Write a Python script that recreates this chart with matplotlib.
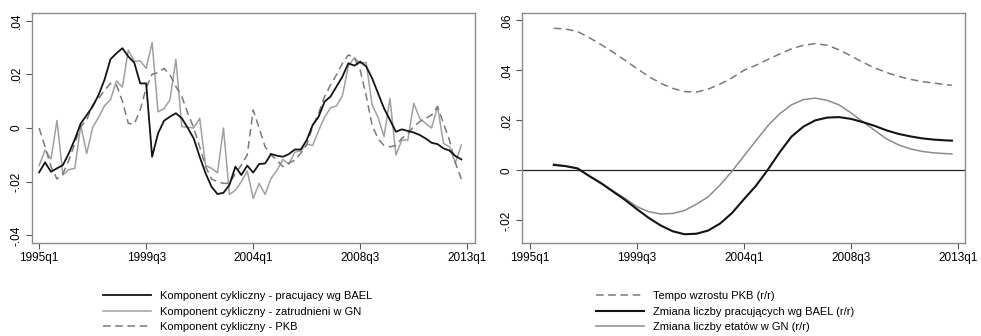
import matplotlib
matplotlib.use("Agg")
import matplotlib.pyplot as plt
from matplotlib import font_manager
import numpy as np

# ---- data ----
# quarter index 0 = 1995q1
tick_pos = [0, 18, 36, 54, 72]
tick_labels = ["1995q1", "1999q3", "2004q1", "2008q3", "2013q1"]

left_q = list(range(72))
bael_cyc = [-0.0165, -0.0128, -0.0163, -0.0150, -0.0138, -0.0094, -0.0042, 0.0017, 0.0048, 0.0080,
            0.0123, 0.0180, 0.0256, 0.0278, 0.0297, 0.0266, 0.0243, 0.0166, 0.0166, -0.0107,
            -0.0020, 0.0027, 0.0042, 0.0055, 0.0036, 0.0000, -0.0039, -0.0107, -0.0169, -0.0219,
            -0.0246, -0.0241, -0.0212, -0.0144, -0.0175, -0.0140, -0.0166, -0.0134, -0.0132, -0.0097,
            -0.0103, -0.0107, -0.0097, -0.0080, -0.0080, -0.0045, 0.0011, 0.0042, 0.0098, 0.0117,
            0.0154, 0.0191, 0.0241, 0.0232, 0.0247, 0.0229, 0.0185, 0.0129, 0.0073, 0.0030,
            -0.0014, -0.0005, -0.0011, -0.0017, -0.0026, -0.0039, -0.0055, -0.0060, -0.0076, -0.0084,
            -0.0104, -0.0117]
gn_cyc = [-0.0140, -0.0082, -0.0115, 0.0028, -0.0175, -0.0155, -0.0150, 0.0010, -0.0095, 0.0002,
          0.0040, 0.0083, 0.0105, 0.0175, 0.0152, 0.0290, 0.0248, 0.0250, 0.0222, 0.0318,
          0.0060, 0.0072, 0.0105, 0.0255, 0.0005, 0.0003, 0.0000, 0.0036, -0.0140, -0.0150,
          -0.0167, 0.0000, -0.0247, -0.0232, -0.0200, -0.0160, -0.0262, -0.0206, -0.0247, -0.0188,
          -0.0157, -0.0117, -0.0135, -0.0090, -0.0085, -0.0060, -0.0065, -0.0010, 0.0040, 0.0075,
          0.0082, 0.0120, 0.0230, 0.0262, 0.0240, 0.0244, 0.0085, 0.0040, -0.0032, 0.0110,
          -0.0100, -0.0045, -0.0045, 0.0092, 0.0036, 0.0017, 0.0000, 0.0080, -0.0057, -0.0070,
          -0.0130, -0.0063]
pkb_cyc = [0.0000, -0.0070, -0.0144, -0.0190, -0.0170, -0.0120, -0.0057, 0.0005, 0.0030, 0.0086,
           0.0110, 0.0140, 0.0166, 0.0160, 0.0100, 0.0017, 0.0015, 0.0067, 0.0150, 0.0200,
           0.0206, 0.0222, 0.0198, 0.0154, 0.0117, 0.0055, 0.0000, -0.0070, -0.0144, -0.0190,
           -0.0200, -0.0206, -0.0206, -0.0170, -0.0138, -0.0100, 0.0067, 0.0000, -0.0070, -0.0100,
           -0.0120, -0.0144, -0.0130, -0.0120, -0.0094, -0.0063, 0.0005, 0.0055, 0.0117, 0.0160,
           0.0198, 0.0240, 0.0272, 0.0262, 0.0215, 0.0120, 0.0010, -0.0040, -0.0065, -0.0070,
           -0.0065, -0.0039, -0.0020, 0.0005, 0.0024, 0.0036, 0.0048, 0.0080, 0.0017, -0.0045,
           -0.0130, -0.0190]

right_q = [4, 6, 8, 10, 12, 14, 16, 18, 20, 22, 24, 26, 28, 30, 32, 34, 36, 38, 40, 42,
           44, 46, 48, 50, 52, 54, 56, 58, 60, 62, 64, 66, 68, 70, 71]
pkb_growth = [0.0568, 0.0565, 0.0555, 0.0530, 0.0502, 0.0472, 0.0440, 0.0407, 0.0375, 0.0348,
              0.0328, 0.0315, 0.0313, 0.0325, 0.0345, 0.0370, 0.0400, 0.0420, 0.0443, 0.0465,
              0.0486, 0.0500, 0.0507, 0.0500, 0.0482, 0.0458, 0.0432, 0.0410, 0.0391, 0.0376,
              0.0364, 0.0355, 0.0349, 0.0342, 0.0340]
bael_chg = [0.0022, 0.0017, 0.0008, -0.0023, -0.0052, -0.0085, -0.0118, -0.0155, -0.0190, -0.0220,
            -0.0243, -0.0255, -0.0253, -0.0240, -0.0212, -0.0170, -0.0115, -0.0062, 0.0002, 0.0072,
            0.0135, 0.0175, 0.0200, 0.0211, 0.0213, 0.0206, 0.0193, 0.0178, 0.0160, 0.0146,
            0.0136, 0.0128, 0.0123, 0.0120, 0.0119]
gn_chg = [0.0025, 0.0018, 0.0008, -0.0022, -0.0050, -0.0082, -0.0112, -0.0145, -0.0165, -0.0174,
          -0.0172, -0.0160, -0.0135, -0.0105, -0.0058, -0.0003, 0.0058, 0.0118, 0.0178, 0.0226,
          0.0262, 0.0283, 0.0289, 0.0280, 0.0262, 0.0230, 0.0195, 0.0160, 0.0126, 0.0102,
          0.0086, 0.0076, 0.0070, 0.0067, 0.0066]

left_labels = ["Komponent cykliczny - pracujacy wg BAEL",
               "Komponent cykliczny - zatrudnieni w GN",
               "Komponent cykliczny - PKB"]
right_labels = ["Tempo wzrostu PKB (r/r)",
                "Zmiana liczby pracujących wg BAEL (r/r)",
                "Zmiana liczby etatów w GN (r/r)"]

left_yticks = [-0.04, -0.02, 0, 0.02, 0.04]
left_ytl = ["-.04", "-.02", "0", ".02", ".04"]
right_yticks = [-0.02, 0, 0.02, 0.04, 0.06]
right_ytl = ["-.02", "0", ".02", ".04", ".06"]

# ---- style ----
plt.rcParams['font.family'] = ['Liberation Sans', 'DejaVu Sans']
names = {f.name for f in font_manager.fontManager.ttflist}
if 'Liberation Sans Narrow' in names:
    LEG_FAMILY = ['Liberation Sans Narrow', 'Liberation Sans', 'DejaVu Sans']
    LEG_FS = 9.3
else:
    LEG_FAMILY = ['Liberation Sans', 'DejaVu Sans']
    LEG_FS = 8.0
FS = 8.5
BLACK = "#141414"
GRAY = "#a0a0a0"
DGRAY = "#7a7a7a"
SPINE = "#8a8a8a"
DASH = (0, (5, 3))

fig = plt.figure(figsize=(9.81, 3.36), dpi=100)
W, H = 981, 336
axL = fig.add_axes([32 / W, 1 - 243 / H, (475 - 32) / W, (243 - 13) / H])
axR = fig.add_axes([522 / W, 1 - 243 / H, (965 - 522) / W, (243 - 13) / H])

def style(ax, yt, ytl):
    for s in ax.spines.values():
        s.set_color(SPINE)
        s.set_linewidth(1.0)
    ax.set_xticks(tick_pos)
    ax.set_xticklabels(tick_labels, fontsize=FS)
    ax.set_yticks(yt)
    ax.set_yticklabels(ytl, fontsize=FS, rotation=90, va='center')
    ax.tick_params(axis='both', direction='out', length=4, width=0.8, color="#555555", pad=2.5)

gn_l, = axL.plot(left_q, gn_cyc, color=GRAY, lw=1.1)
pkb_l, = axL.plot(left_q, pkb_cyc, color=DGRAY, lw=1.1, linestyle=DASH)
bael_l, = axL.plot(left_q, bael_cyc, color=BLACK, lw=1.3)
axL.set_xlim(-1.2, 73.3)
axL.set_ylim(-0.0428, 0.0428)
style(axL, left_yticks, left_ytl)

axR.axhline(0, color="#222222", lw=0.9)
pkb_r, = axR.plot(right_q, pkb_growth, color=DGRAY, lw=1.1, linestyle=DASH)
gn_r, = axR.plot(right_q, gn_chg, color="#8c8c8c", lw=1.1)
bael_r, = axR.plot(right_q, bael_chg, color=BLACK, lw=1.5)
axR.set_xlim(-1.35, 73.2)
axR.set_ylim(-0.029, 0.0629)
style(axR, right_yticks, right_ytl)

legkw = dict(frameon=False, prop={'family': LEG_FAMILY, 'size': LEG_FS}, handlelength=4.3,
             handletextpad=0.8, labelspacing=0.5, borderpad=0, borderaxespad=0, loc='upper left')
fig.legend([bael_l, gn_l, pkb_l], left_labels, bbox_to_anchor=(103 / W, 1 - 291 / H), **legkw)
fig.legend([pkb_r, bael_r, gn_r], right_labels, bbox_to_anchor=(596 / W, 1 - 291 / H), **legkw)

fig.savefig("out.png", dpi=100, facecolor="white")
